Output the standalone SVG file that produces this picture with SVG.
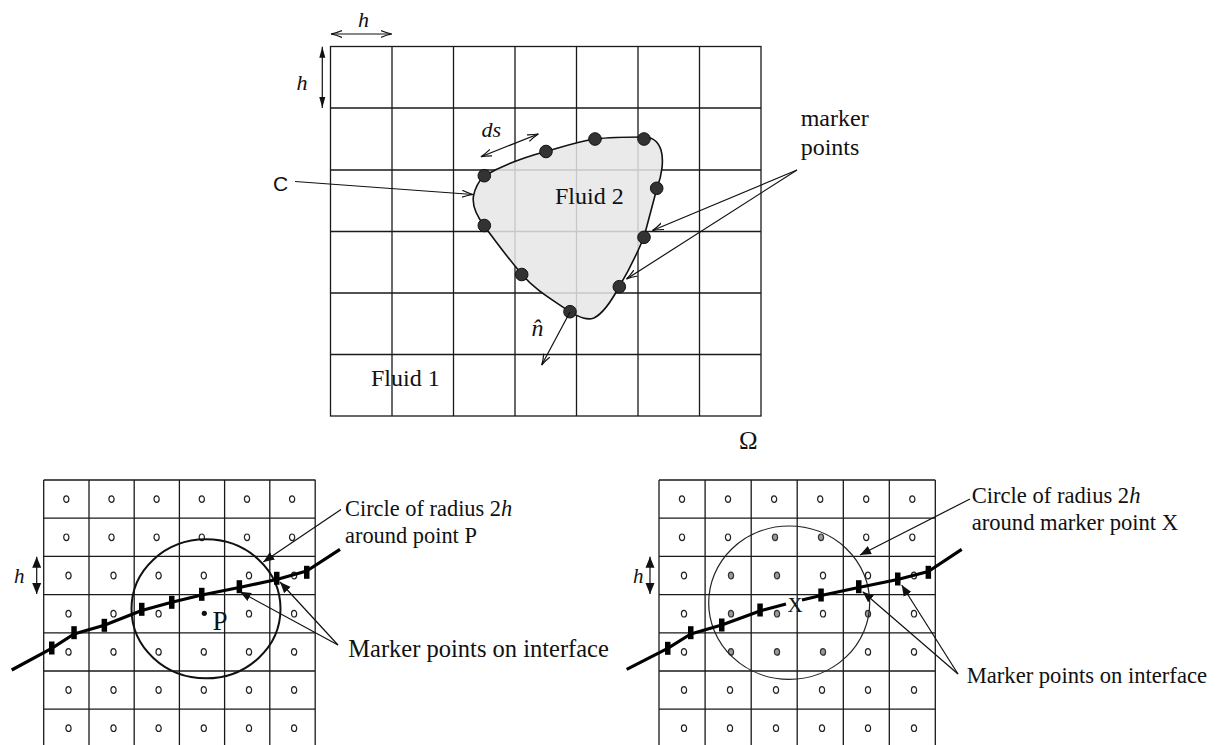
<svg xmlns="http://www.w3.org/2000/svg" xmlns:xlink="http://www.w3.org/1999/xlink" width="1217" height="745" viewBox="0 0 1217 745">
<style>
.g{fill:none;stroke:#1a1a1a;stroke-width:1.3}
.t{font-family:"Liberation Serif","Times New Roman",serif;fill:#111}
.i{font-style:italic}
.o{fill:#fff;stroke:#222;stroke-width:1.2}
.og{fill:#9a9a9a;stroke:#333;stroke-width:1.2}
.dot{fill:#333;stroke:#111;stroke-width:1}
.ln{fill:none;stroke:#111;stroke-width:1.2}
.mk{fill:#000}
.iface{fill:none;stroke:#000;stroke-width:3.2;stroke-linejoin:round;stroke-linecap:butt}
</style>
<defs>
<marker id="open" markerUnits="userSpaceOnUse" markerWidth="14" markerHeight="10" refX="11" refY="4" orient="auto-start-reverse"><path d="M0,0.5 Q6,3 11,4 Q6,5 0,7.5" fill="none" stroke="#111" stroke-width="1.2"/></marker>
<marker id="fillv" markerUnits="userSpaceOnUse" markerWidth="14" markerHeight="10" refX="11" refY="4" orient="auto-start-reverse"><path d="M0,1 L11,4 L0,7 Z" fill="#111"/></marker>
<marker id="fill" markerUnits="userSpaceOnUse" markerWidth="14" markerHeight="12" refX="11" refY="5" orient="auto-start-reverse"><path d="M0,0.5 L11,5 L0,9.5 Z" fill="#111"/></marker>
<ellipse id="o" cx="0" cy="0" rx="2.6" ry="3.3"/>
</defs>
<rect width="1217" height="745" fill="#fff"/>

<g id="top-grid">
<rect class="g" x="330.5" y="46.5" width="430.5" height="369.5"/>
<path class="g" d="M392,46.5V416M453.5,46.5V416M515,46.5V416M576.5,46.5V416M638,46.5V416M699.5,46.5V416M330.5,108H761M330.5,170H761M330.5,231.5H761M330.5,293H761M330.5,354.5H761"/>
</g>

<g id="fluid2-region">
<path d="M484,176 C505,164 525,157 546,151.5 C562,147 578,141.5 595,139 C612,137 628,137 644,137 C652,137 658,141 661,150 C664,160 662,175 657,188 L644,237 C636,256 628,272 619,287 C612,300 604,313 594,318 C586,321 578,316 570,312 C553,300 535,290 522,274.5 C508,258 496,242 484,225.5 C476,215 472,205 473.5,196 C475,188 479,181 484,176 Z" fill="#e6e6e6" fill-opacity="0.85" stroke="#111" stroke-width="1.6"/>
<circle class="dot" cx="484.3" cy="175.7" r="6.3"/>
<circle class="dot" cx="546" cy="151.5" r="6.3"/>
<circle class="dot" cx="595" cy="139" r="6.3"/>
<circle class="dot" cx="644" cy="139" r="6.3"/>
<circle class="dot" cx="656.7" cy="188.3" r="6.3"/>
<circle class="dot" cx="644" cy="237.3" r="6.3"/>
<circle class="dot" cx="619.3" cy="286.7" r="6.3"/>
<circle class="dot" cx="570" cy="311.7" r="6.3"/>
<circle class="dot" cx="521.7" cy="274.5" r="6.3"/>
<circle class="dot" cx="484.3" cy="225.5" r="6.3"/>
<text class="t" x="555" y="204" font-size="24">Fluid 2</text>
</g>

<g id="top-labels">
<text class="t i" x="358" y="26.7" font-size="22">h</text>
<text class="t i" x="296.5" y="90" font-size="22">h</text>
<text class="t i" x="481.5" y="136.5" font-size="22">ds</text>
<text x="273" y="190.5" font-size="21" font-family="Liberation Sans, Arial, sans-serif" fill="#111">C</text>
<text class="t i" x="531.5" y="335.5" font-size="24">n̂</text>
<text class="t" x="371" y="386" font-size="24">Fluid 1</text>
<text class="t" x="800.7" y="126" font-size="24">marker</text>
<text class="t" x="800.7" y="155" font-size="24">points</text>
<text class="t" x="739" y="449" font-size="25">Ω</text>
</g>

<g id="grid-P">
<path class="g" d="M43.7,480H315.5M43.7,518.2H315.5M43.7,556.4H315.5M43.7,594.6H315.5M43.7,632.8H315.5M43.7,671H315.5M43.7,709.2H315.5M43.7,480V746M89,480V746M134.2,480V746M179.4,480V746M224.6,480V746M269.8,480V746M315.2,480V746"/>
<g class="o">
<use href="#o" x="66.3" y="499.1"/><use href="#o" x="111.5" y="499.1"/><use href="#o" x="156.6" y="499.1"/><use href="#o" x="201.8" y="499.1"/><use href="#o" x="247" y="499.1"/><use href="#o" x="292.1" y="499.1"/>
<use href="#o" x="66.3" y="537.3"/><use href="#o" x="111.5" y="537.3"/><use href="#o" x="156.6" y="537.3"/><use href="#o" x="201.8" y="537.3"/><use href="#o" x="247" y="537.3"/><use href="#o" x="292.1" y="537.3"/>
<use href="#o" x="68.5" y="575.5"/><use href="#o" x="113.5" y="575.5"/><use href="#o" x="158.6" y="575.5"/><use href="#o" x="203.8" y="575.5"/><use href="#o" x="249" y="575.5"/><use href="#o" x="294.1" y="575.5"/>
<use href="#o" x="68.5" y="613.7"/><use href="#o" x="113.5" y="613.7"/><use href="#o" x="158.6" y="613.7"/><use href="#o" x="249" y="613.7"/><use href="#o" x="294.1" y="613.7"/>
<use href="#o" x="68.5" y="651.9"/><use href="#o" x="113.5" y="651.9"/><use href="#o" x="158.6" y="651.9"/><use href="#o" x="203.8" y="651.9"/><use href="#o" x="249" y="651.9"/><use href="#o" x="294.1" y="651.9"/>
<use href="#o" x="68.5" y="690"/><use href="#o" x="113.5" y="690"/><use href="#o" x="158.6" y="690"/><use href="#o" x="203.8" y="690"/><use href="#o" x="249" y="690"/><use href="#o" x="294.1" y="690"/>
<use href="#o" x="68.5" y="728.2"/><use href="#o" x="113.5" y="728.2"/><use href="#o" x="158.6" y="728.2"/><use href="#o" x="203.8" y="728.2"/><use href="#o" x="249" y="728.2"/><use href="#o" x="294.1" y="728.2"/>
</g>
<ellipse cx="206" cy="608.8" rx="74.5" ry="69.5" fill="none" stroke="#111" stroke-width="2"/>
<path class="iface" d="M11.7,670 L51.7,648.3 L74,634 L104.3,625.3 L141.7,610.5 L171.7,602.3 L201.7,595 L239.3,587.5 L276.7,579.5 L306.7,571 L340,549.3"/>
<g class="mk">
<rect x="49" y="641.5" width="5.5" height="13"/><rect x="71.3" y="626.2" width="5.5" height="13"/><rect x="101.6" y="618.8" width="5.5" height="13"/><rect x="139" y="602.8" width="5.5" height="13"/><rect x="169" y="595.8" width="5.5" height="13"/><rect x="199" y="587.8" width="5.5" height="13"/><rect x="236.6" y="580.2" width="5.5" height="13"/><rect x="274" y="571.8" width="5.5" height="13"/><rect x="304" y="565.8" width="5.5" height="13"/>
</g>
<circle cx="204.3" cy="613.3" r="2.6" fill="#111"/>
<text class="t" x="212.5" y="630" font-size="27">P</text>
<text class="t i" x="14" y="583" font-size="21">h</text>
<text class="t" x="345" y="516.3" font-size="22.4">Circle of radius 2<tspan class="i">h</tspan></text>
<text class="t" x="345" y="542.7" font-size="22.4">around point P</text>
<text class="t" x="348.3" y="656.7" font-size="24.5">Marker points on interface</text>
</g>

<g id="grid-X">
<path class="g" d="M659,480H935.3M659,518.2H935.3M659,556.4H935.3M659,594.6H935.3M659,632.8H935.3M659,671H935.3M659,709.2H935.3M659,480V746M705.1,480V746M751.2,480V746M797.2,480V746M843.3,480V746M889.3,480V746M935.3,480V746"/>
<g class="o">
<use href="#o" x="682" y="499.1"/><use href="#o" x="728" y="499.1"/><use href="#o" x="774.1" y="499.1"/><use href="#o" x="820.2" y="499.1"/><use href="#o" x="866.2" y="499.1"/><use href="#o" x="912.3" y="499.1"/>
<use href="#o" x="682" y="537.3"/><use href="#o" x="728" y="537.3"/><use href="#o" x="866.2" y="537.3"/><use href="#o" x="912.3" y="537.3"/>
<use href="#o" x="684" y="575.5"/><use href="#o" x="823" y="575.5"/><use href="#o" x="868" y="575.5"/><use href="#o" x="914" y="575.5"/>
<use href="#o" x="684" y="613.7"/><use href="#o" x="823" y="613.7"/><use href="#o" x="914" y="613.7"/>
<use href="#o" x="684" y="651.9"/><use href="#o" x="868" y="651.9"/><use href="#o" x="914" y="651.9"/>
<use href="#o" x="684" y="690"/><use href="#o" x="730" y="690"/><use href="#o" x="776" y="690"/><use href="#o" x="822" y="690"/><use href="#o" x="868" y="690"/><use href="#o" x="914" y="690"/>
<use href="#o" x="684" y="728.2"/><use href="#o" x="730" y="728.2"/><use href="#o" x="776" y="728.2"/><use href="#o" x="822" y="728.2"/><use href="#o" x="868" y="728.2"/><use href="#o" x="914" y="728.2"/>
</g>
<g class="og">
<use href="#o" x="775" y="537.3"/><use href="#o" x="821" y="537.3"/>
<use href="#o" x="731" y="575.5"/><use href="#o" x="777" y="575.5"/>
<use href="#o" x="731" y="613.7"/><use href="#o" x="777" y="613.7"/><use href="#o" x="868" y="613.7"/>
<use href="#o" x="731" y="651.9"/><use href="#o" x="777" y="651.9"/><use href="#o" x="823" y="651.9"/>
</g>
<ellipse cx="789.2" cy="602.7" rx="80.5" ry="76.7" fill="none" stroke="#222" stroke-width="1.2"/>
<path class="iface" d="M626.7,669.3 L667.7,648.3 L690.7,634 L721.7,625 L760,611 L786,604 M802,600 L821,595.5 L858.7,587.5 L897.7,579.5 L928.3,571.5 L961.7,549.3"/>
<g class="mk">
<rect x="665" y="641.8" width="5.5" height="13"/><rect x="688" y="626.2" width="5.5" height="13"/><rect x="719" y="618.5" width="5.5" height="13"/><rect x="757.3" y="603.5" width="5.5" height="13"/><rect x="818.3" y="588.5" width="5.5" height="13"/><rect x="856" y="580.2" width="5.5" height="13"/><rect x="895" y="572.5" width="5.5" height="13"/><rect x="925.6" y="565.8" width="5.5" height="13"/>
</g>
<text class="t" x="787.5" y="611.7" font-size="21">X</text>
<text class="t i" x="633" y="583" font-size="21">h</text>
<text class="t" x="971.7" y="502.7" font-size="22.6">Circle of radius 2<tspan class="i">h</tspan></text>
<text class="t" x="971.7" y="529.5" font-size="22.6">around marker point X</text>
<text class="t" x="966.7" y="683.3" font-size="22.6">Marker points on interface</text>
</g>

<g id="connectors">
<line class="ln" x1="331" y1="34" x2="391.7" y2="34" marker-start="url(#open)" marker-end="url(#open)"/>
<line class="ln" x1="322.3" y1="46.7" x2="322.3" y2="108" marker-start="url(#fillv)" marker-end="url(#fillv)"/>
<line class="ln" x1="481" y1="156.7" x2="538.3" y2="134" marker-start="url(#open)" marker-end="url(#open)"/>
<line class="ln" x1="295" y1="181.5" x2="473" y2="194.5" marker-end="url(#open)"/>
<line class="ln" x1="570" y1="312" x2="541.7" y2="365" marker-end="url(#open)"/>
<line class="ln" x1="797" y1="170" x2="652.5" y2="230.5" marker-end="url(#open)"/>
<line class="ln" x1="797" y1="170" x2="626.5" y2="279" marker-end="url(#open)"/>
<line class="ln" x1="36.7" y1="556.7" x2="36.7" y2="594" marker-start="url(#fill)" marker-end="url(#fill)"/>
<line class="ln" x1="650" y1="556.7" x2="650" y2="594" marker-start="url(#fill)" marker-end="url(#fill)"/>
<line class="ln" x1="341" y1="509.5" x2="263.3" y2="562" marker-end="url(#fill)"/>
<line class="ln" x1="338" y1="645" x2="240" y2="591.7" marker-end="url(#fill)"/>
<line class="ln" x1="338" y1="645" x2="280" y2="582" marker-end="url(#fill)"/>
<line class="ln" x1="970" y1="499" x2="860" y2="555" marker-end="url(#fill)"/>
<line class="ln" x1="958" y1="674" x2="862.7" y2="591.7" marker-end="url(#fill)"/>
<line class="ln" x1="958" y1="674" x2="901.7" y2="585" marker-end="url(#fill)"/>
</g>
</svg>
